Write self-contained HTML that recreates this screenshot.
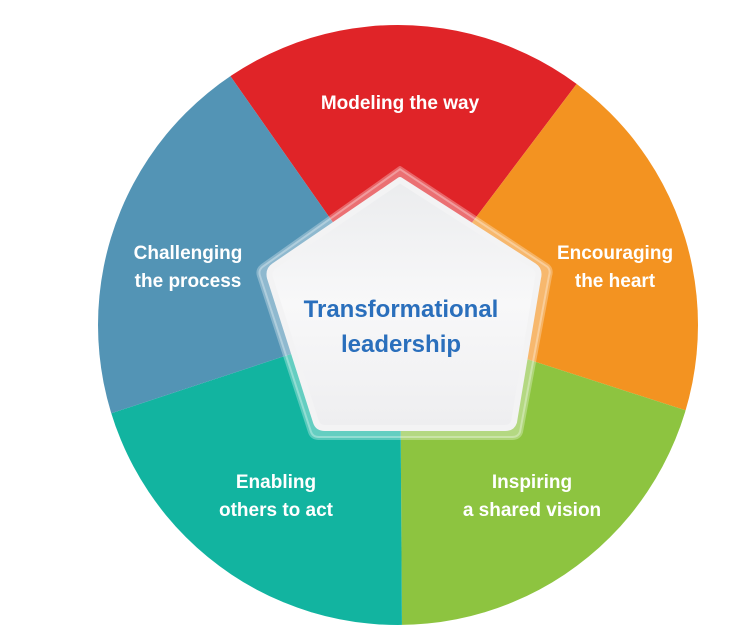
<!DOCTYPE html>
<html><head><style>
html,body{margin:0;padding:0;background:#fff;width:740px;height:632px;overflow:hidden;}
svg{display:block;}
text{font-family:"Liberation Sans",sans-serif;font-weight:bold;}
</style></head><body>
<svg width="740" height="632" viewBox="0 0 740 632">
<defs>
<clipPath id="c"><circle cx="398" cy="325" r="300"/></clipPath>
<linearGradient id="pg" x1="0" y1="0" x2="0" y2="1"><stop offset="0" stop-color="#ebecee"/><stop offset="0.5" stop-color="#f8f8f9"/><stop offset="1" stop-color="#eeeef0"/></linearGradient>
</defs>
<g clip-path="url(#c)">
<polygon points="400,318 177,0 640,0" fill="#e02428"/>
<polygon points="400,318 640,0 740,0 740,428" fill="#f39321"/>
<polygon points="400,318 740,428 740,632 402,632" fill="#8dc440"/>
<polygon points="400,318 402,632 0,632 0,450" fill="#12b4a0"/>
<polygon points="400,318 0,450 0,0 177,0" fill="#5394b5"/>
</g>
<path d="M400,168 L548,266 Q552,270 550,276 L521,432 Q519,438 512,438 L319,438 Q312,438 310,432 L259,276 Q257,270 262,266 Z" fill="#ffffff" fill-opacity="0.35" stroke="#ffffff" stroke-opacity="0.3" stroke-width="4" stroke-linejoin="round"/>
<path d="M400,180 L534,266 Q540,270 538,278 L514,422 Q512,428 505,428 L325,428 Q318,428 316,422 L270,278 Q268,270 274,266 Z" fill="url(#pg)" stroke="#f3f3f4" stroke-width="6" stroke-linejoin="round"/>
<g fill="#fff" font-size="19" text-anchor="middle">
<text x="400" y="109">Modeling the way</text>
<text x="188" y="259">Challenging</text>
<text x="188" y="287">the process</text>
<text x="615" y="259">Encouraging</text>
<text x="615" y="287">the heart</text>
<text x="276" y="488">Enabling</text>
<text x="276" y="516">others to act</text>
<text x="532" y="488">Inspiring</text>
<text x="532" y="516">a shared vision</text>
</g>
<g fill="#2a6fbc" font-size="24" text-anchor="middle">
<text x="401" y="317">Transformational</text>
<text x="401" y="352">leadership</text>
</g>
</svg>
</body></html>
